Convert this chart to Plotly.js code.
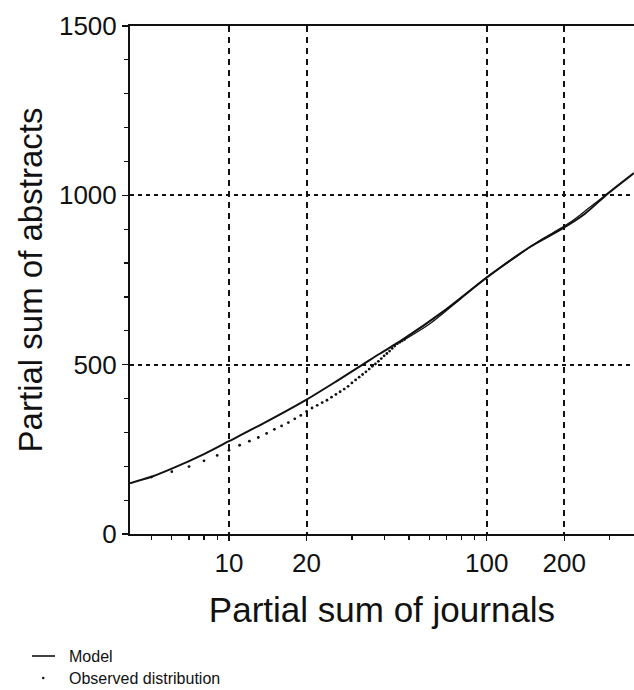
<!DOCTYPE html>
<html>
<head>
<meta charset="utf-8">
<script src="https://cdn.plot.ly/plotly-3.0.1.min.js"></script>
<style>
  html, body { margin: 0; padding: 0; background: #fff; overflow: hidden; }
  #chart { width: 634px; height: 690px; }
</style>
</head>
<body>
<div id="chart"></div>
<script>
// ---- Data ----
// Model curve: partial sum of journals (x) vs partial sum of abstracts (y)
const modelJournals  = [4.13, 5, 6, 8, 10, 14, 20, 26, 33, 38, 47, 69, 100, 146, 195, 240, 295, 363, 373];
const modelAbstracts = [150, 169, 193, 236, 274, 332, 397, 450, 500, 530, 573, 661, 757, 846, 900, 945, 1005, 1059, 1066];

// Observed distribution: one point per journal rank (discrete, visible region)
const obsJournals  = [5, 6, 7, 8, 9, 10, 11, 12, 13, 14, 15, 16, 17, 18, 19, 20,
                      21, 22, 23, 24, 25, 26, 27, 28, 29, 30, 31, 32, 33, 34, 35,
                      36, 37, 38, 39, 40, 41, 42, 43, 44, 45, 46, 47, 48];
const obsAbstracts = [168, 184, 199, 216, 232, 247, 262, 274, 285, 297, 309, 319, 329, 340, 350, 362,
                      372, 380, 388, 395, 404, 412, 420, 428, 436, 446, 455, 463, 471, 479, 487,
                      495, 502, 510, 518, 526, 533, 540, 548, 555, 562, 566, 570, 574];
// Observed distribution where the points merge into a continuous trace
const obsTailJournals  = [48, 60, 80, 100, 130, 160, 195, 220, 250, 280, 295];
const obsTailAbstracts = [574, 620, 697, 758, 818, 866, 904, 930, 963, 992, 1005];

// Axis ticks
const xTickVals  = [10, 20, 100, 200];
const xTickText  = ['10', '20', '100', '200'];
const xMinorVals = [5, 6, 7, 8, 9, 30, 40, 50, 60, 70, 80, 90, 300];
const yTickVals  = [0, 500, 1000, 1500];
const yTickText  = ['0', '500', '1000', '1500'];

const legendLabels = ['Model', 'Observed distribution'];

// ---- Plot ----
const ink = '#111';
const traces = [
  {
    x: modelJournals, y: modelAbstracts, type: 'scatter', mode: 'lines',
    line: { color: ink, width: 2, shape: 'spline', smoothing: 0.8 },
    name: legendLabels[0], showlegend: false, hoverinfo: 'skip'
  },
  {
    x: obsTailJournals, y: obsTailAbstracts, type: 'scatter', mode: 'lines',
    line: { color: ink, width: 1.3, shape: 'spline', smoothing: 0.8 },
    name: legendLabels[1], showlegend: false, hoverinfo: 'skip'
  },
  {
    x: obsJournals, y: obsAbstracts, type: 'scatter', mode: 'markers',
    marker: { color: ink, size: 2.8, symbol: 'circle' },
    name: legendLabels[1], showlegend: false, hoverinfo: 'skip'
  }
];

const L = 130, R = 634, T = 26, B = 534;
const px2x = p => (p - L) / (R - L);
const py2y = p => (B - p) / (B - T);

const layout = {
  width: 634, height: 690,
  margin: { l: L, r: 634 - R, t: T, b: 690 - B, pad: 0 },
  paper_bgcolor: '#fff', plot_bgcolor: '#fff',
  font: { family: '"Liberation Sans", Arial, Helvetica, sans-serif', color: ink },
  showlegend: false,
  xaxis: {
    type: 'log',
    range: [Math.log10(4.13), Math.log10(373)],
    tickmode: 'array', tickvals: xTickVals, ticktext: xTickText,
    ticks: 'outside', ticklen: 5, tickwidth: 1.5, tickcolor: ink,
    tickfont: { size: 26, color: ink },
    showline: true, linecolor: ink, linewidth: 2, mirror: true,
    showgrid: true, gridcolor: ink, gridwidth: 2, griddash: '6px,5px',
    zeroline: false,
    minor: { tickmode: 'array', tickvals: xMinorVals, ticks: 'outside', ticklen: 4, tickwidth: 1.2, tickcolor: ink, showgrid: false },
    title: { text: 'Partial sum of journals', font: { size: 35, color: ink }, standoff: 20 },
    automargin: false
  },
  yaxis: {
    range: [0, 1500],
    tickmode: 'array', tickvals: yTickVals, ticktext: yTickText,
    ticks: 'outside', ticklen: 6, tickwidth: 1.5, tickcolor: ink,
    tickfont: { size: 26, color: ink },
    ticklabelstandoff: 0,
    showline: true, linecolor: ink, linewidth: 2,
    showgrid: true, gridcolor: ink, gridwidth: 2, griddash: '4px,4px',
    zeroline: false,
    minor: { dtick: 100, ticks: 'outside', ticklen: 4, tickwidth: 1.2, tickcolor: ink, showgrid: false },
    title: { text: 'Partial sum of abstracts', font: { size: 33, color: ink }, standoff: 6 },
    automargin: false
  },
  shapes: [
    { type: 'line', xref: 'paper', yref: 'paper',
      x0: px2x(32), x1: px2x(55), y0: py2y(656), y1: py2y(656),
      line: { color: ink, width: 1.6 } },
    { type: 'circle', xref: 'paper', yref: 'paper',
      x0: px2x(42), x1: px2x(44.5), y0: py2y(679.2), y1: py2y(676.8),
      fillcolor: ink, line: { width: 0 } }
  ],
  annotations: [
    { xref: 'paper', yref: 'paper', x: px2x(67), y: py2y(656), xanchor: 'left', yanchor: 'middle',
      text: legendLabels[0], showarrow: false, font: { size: 16, color: ink } },
    { xref: 'paper', yref: 'paper', x: px2x(67), y: py2y(678), xanchor: 'left', yanchor: 'middle',
      text: legendLabels[1], showarrow: false, font: { size: 16, color: ink } }
  ]
};

Plotly.newPlot('chart', traces, layout, { staticPlot: true, displayModeBar: false });
</script>
</body>
</html>
